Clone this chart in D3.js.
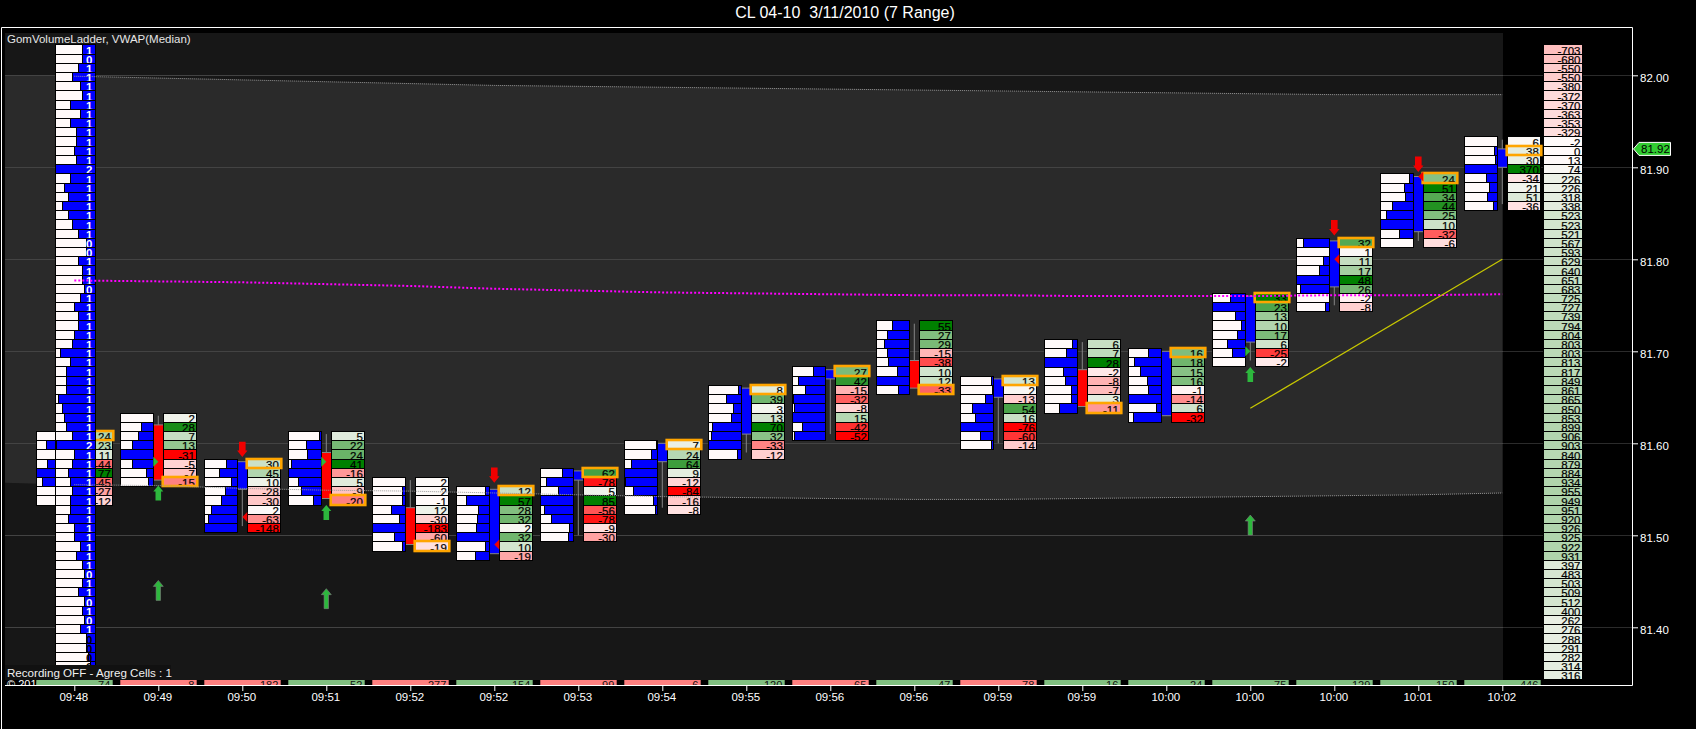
<!DOCTYPE html>
<html><head><meta charset="utf-8">
<script src="https://cdn.jsdelivr.net/npm/d3@7"></script>
<style>html,body{margin:0;padding:0;background:#000;overflow:hidden}svg{display:block}text{font-family:"Liberation Sans",Arial,sans-serif}</style>
</head><body><svg id="c" width="1696" height="729"></svg>
<script>
const timeLabels=["09:48","09:49","09:50","09:51","09:52","09:52","09:53","09:54","09:55","09:56","09:56","09:59","09:59","10:00","10:00","10:00","10:01","10:02"];
const volumes=[74,8,182,52,277,154,99,6,120,65,47,78,16,24,75,129,150,446];
const volumeUp=[1,0,0,1,0,1,0,0,1,0,1,0,1,1,1,1,1,1];
const barTop=[81.61,81.63,81.58,81.61,81.56,81.55,81.57,81.60,81.66,81.68,81.73,81.67,81.71,81.70,81.76,81.82,81.89,81.93];
const candleOpen=[81.60,81.62,81.58,81.59,81.53,81.55,81.57,81.60,81.66,81.68,81.69,81.67,81.68,81.70,81.76,81.82,81.89,81.92];
const candleClose=[81.55,81.56,81.55,81.54,81.49,81.48,81.56,81.58,81.61,81.67,81.66,81.65,81.64,81.63,81.71,81.77,81.83,81.90];
const wickHigh=[81.61,81.63,81.58,81.61,81.56,81.55,81.57,81.60,81.66,81.68,81.73,81.67,81.71,81.70,81.76,81.82,81.89,81.93];
const wickLow=[81.54,81.56,81.51,81.54,81.49,81.48,81.50,81.53,81.59,81.61,81.66,81.60,81.64,81.63,81.69,81.75,81.82,81.86];
const bidShare=[
[1,.32,1,.35,0,.2,1,1],[1,.62,.53,.38,0,.38,.77,.83],[.65,.45,.81,.62,.5,.23,.14,0],[.92,.53,.56,.11,0,.32,.41,.74],
[1,.9,.9,.56,.8,0,.65,.9],[.87,.32,.65,.62,.59,0,.87,.56],[.65,.19,.53,0,.13,.35,.87,.84],[.97,.81,.22,0,.04,.29,.87,.93],
[.89,.53,.74,.68,.14,.11,0,.86],[.64,.19,.4,.04,.07,0,.31,.07],[.49,.34,.25,.34,.37,.64,0,.67],[.93,.96,.75,.38,.47,0,.6,.93],
[.84,.65,0,.56,.62,.81,.81,.47],[.59,.19,.38,.56,.59,0,.84,.16],[.53,0,.68,.87,.74,.47,.59,1],[.22,1,.81,.68,0,.13,1,.87],
[.87,.71,.74,.38,.19,0,.56,1],[1,.9,.93,0,.65,.74,.68,.87]];
const barDeltas=[
[24,23,11,-44,77,-45,-27,-12],[2,28,7,13,-31,-5,-7,-15],[30,45,10,-28,-30,2,-63,-148],[5,22,24,41,-16,5,-9,-20],
[2,2,-1,12,-30,-183,-60,-19],[12,57,28,32,2,32,10,-19],[62,-78,5,85,-56,-78,-9,-30],[7,24,64,9,-12,-84,-16,-8],
[8,39,3,13,70,32,-33,-12],[27,42,-15,-32,-8,15,-42,-52],[55,27,29,-15,-38,10,12,-33],[13,2,-13,54,16,-76,-60,-14],
[6,7,28,-2,-8,-7,3,-11],[16,18,15,16,-1,-14,6,-32],[33,23,13,10,17,6,-25,-2],[32,1,11,17,48,26,-2,-8],
[24,51,34,44,25,10,-32,-6],[6,38,30,370,-34,21,51,-36]];
const pocRow=[0,7,0,7,7,0,0,0,0,0,7,0,7,0,0,0,0,1];
const arrowUpSmall=[[1,81.554],[3,81.533],[14,81.683]];
const arrowUpLarge=[[1,81.451],[3,81.442],[14,81.522]];
const arrowDown=[[2,81.585],[5,81.557],[15,81.826],[16,81.895]];
const triangleRight=[[1,81.58],[3,81.58],[14,81.70]];
const triangleLeft=[[2,81.52],[5,81.49],[15,81.80],[16,81.89]];
const ladderTop=82.03;
const ladderShare=[.66,.68,.58,.43,.63,.66,.38,.61,.36,.51,.53,.48,.53,0,.36,.21,.33,.16,.31,.41,.58,.76,.76,.56,.66,.66,.71,.63,.48,.56,.58,.46,.43,.13,.36,.28,.26,.28,.06,.16,.23,.28,.41,.03,.48,.41,.33,.36,.41,.38,.38,.31,.48,.48,.63,.51,.66,.71,.68,.58,.73,.68,.73,.63,.78,.78,.81,.86,.86];
const ladderValues=[1,0,1,1,1,1,1,1,1,1,1,1,1,2,1,1,1,1,1,1,1,0,0,1,1,1,0,1,1,1,1,1,1,1,1,1,1,1,1,1,1,1,1,2,1,1,1,1,1,1,1,1,1,1,1,1,1,0,1,1,0,1,0,1,0,0,0,0,0];
const cumDeltas=[-703,-680,-550,-550,-380,-372,-370,-363,-353,-329,-2,0,13,74,226,226,318,338,523,523,521,567,593,629,640,651,683,725,727,739,794,804,803,803,813,817,849,861,865,850,853,899,906,903,840,879,884,934,955,949,951,920,926,925,922,931,397,483,503,509,512,400,262,276,288,291,282,314,316];
const bandUpper=[81.999,81.997,81.995,81.993,81.991,81.989,81.988,81.987,81.986,81.985,81.984,81.983,81.982,81.981,81.980,81.979,81.979,81.979];
const bandLower=[81.555,81.554,81.551,81.549,81.548,81.546,81.544,81.542,81.541,81.540,81.539,81.539,81.540,81.541,81.542,81.543,81.544,81.546];
const vwap=[81.777,81.776,81.775,81.773,81.771,81.768,81.766,81.764,81.763,81.762,81.761,81.761,81.760,81.760,81.760,81.761,81.761,81.762];
const trendLine=[[14,81.638],[17,81.80]];
const priceTicks=[82.0,81.9,81.8,81.7,81.6,81.5,81.4];
const lastPrice=81.92;
const tickSize=0.01;

const svg=d3.select("#c");
const x=d3.scaleLinear().domain([0,17]).range([74.3,1502.3]);
const y=d3.scaleLinear().domain([81.4,82.0]).range([627.3,75.3]);
const plotL=5,plotR=1503,plotT=33,plotB=680,axisR=1632,axisB=685;
const rowY=p=>Math.round(y(p)-3.2);
const rows=(p,k)=>{const a=rowY(p-k*tickSize);return [a,Math.round(y(p-(k+1)*tickSize)-3.2)];};
const WHITE="#fffafa";
const cellColor=(v,m)=>{const t=Math.min(1,Math.abs(v)/m);return v>=0?d3.interpolateRgb(WHITE,"#008000")(t):d3.interpolateRgb(WHITE,"#ff0000")(t);};

const defs=svg.append("defs");
defs.append("clipPath").attr("id","volClip").append("rect").attr("x",0).attr("y",680).attr("width",1696).attr("height",5);
defs.append("clipPath").attr("id","plotClip").append("rect").attr("x",plotL).attr("y",plotT).attr("width",plotR-plotL).attr("height",plotB-plotT);

/* backgrounds */
svg.append("rect").attr("x",plotL).attr("y",plotT).attr("width",plotR-plotL).attr("height",plotB-plotT).attr("fill","#171717");
const idx=d3.range(18);
const area=d3.area().x(d=>d[0]).y0(d=>y(d[2])).y1(d=>y(d[1]));
const bandPts=[[plotL,bandUpper[0]+0.001,bandLower[0]+0.002]].concat(idx.map(i=>[x(i),bandUpper[i],bandLower[i]]));
svg.append("path").attr("d",area(bandPts)).attr("fill","#2a2a2a");

/* grid */
svg.append("g").selectAll("line").data(priceTicks).join("line")
 .attr("x1",plotL).attr("x2",plotR).attr("y1",d=>Math.round(y(d))+.5).attr("y2",d=>Math.round(y(d))+.5).attr("stroke","#434343");
svg.append("g").selectAll("line").data(priceTicks).join("line")
 .attr("x1",plotR).attr("x2",axisR).attr("y1",d=>Math.round(y(d))+.5).attr("y2",d=>Math.round(y(d))+.5).attr("stroke","#2b2b2b");

/* volume strip */
const copy=svg.append("g").attr("clip-path","url(#volClip)");
copy.append("text").attr("x",7).attr("y",688).attr("fill","#fff").attr("font-size",11).text("© 2010");
const vol=svg.append("g").attr("clip-path","url(#volClip)");
vol.selectAll("rect").data(volumes).join("rect").attr("x",(d,i)=>x(i)-38).attr("y",680).attr("width",76.4).attr("height",5)
 .attr("fill",(d,i)=>volumeUp[i]?"#80bf80":"#ff8080");
vol.selectAll("text").data(volumes).join("text").attr("x",(d,i)=>x(i)+36).attr("y",689).attr("text-anchor","end").attr("font-size",11).attr("fill","#111").text(d=>d);

/* footprint bars */
const bars=svg.append("g");
idx.forEach(i=>{
  const cx=x(i),g=bars.append("g");
  g.append("line").attr("x1",cx).attr("x2",cx).attr("y1",y(wickHigh[i])).attr("y2",y(wickLow[i])).attr("stroke","#858585").attr("stroke-width",1);
  const o=candleOpen[i],c=candleClose[i],red=i===1||i===3||i===4||i===10||i===12;
  g.append("rect").attr("x",cx-4.8).attr("width",9.6).attr("y",y(o)).attr("height",y(c)-y(o)).attr("fill",red?"#ff0000":"#0000ff");
  [o,c].forEach(p=>g.append("line").attr("x1",cx-4.8).attr("x2",cx+4.8).attr("y1",y(p)).attr("y2",y(p)).attr("stroke","#858585").attr("stroke-width",1));
  const m=d3.max(barDeltas[i],Math.abs);
  barDeltas[i].forEach((v,k)=>{
    const [a,b]=rows(barTop[i],k);
    g.append("rect").attr("x",cx-38).attr("y",a).attr("width",33.4).attr("height",b-a).attr("fill","#0000ff").attr("stroke","#000").attr("shape-rendering","crispEdges");
    g.append("rect").attr("x",cx-38).attr("y",a).attr("width",33.4*bidShare[i][k]).attr("height",b-a).attr("fill",WHITE).attr("stroke","#000").attr("stroke-width",bidShare[i][k]?1:0).attr("shape-rendering","crispEdges");
    g.append("rect").attr("x",cx+5).attr("y",a).attr("width",33.4).attr("height",b-a).attr("fill",cellColor(v,m)).attr("stroke","#000").attr("shape-rendering","crispEdges");
    g.append("text").attr("x",cx+36.5).attr("y",b+.5).attr("text-anchor","end").attr("font-size",11.5).attr("fill","#000").attr("stroke","#000").attr("stroke-width",.2).text(v);
  });
  const [a,b]=rows(barTop[i],pocRow[i]);
  g.append("rect").attr("x",cx+4.4).attr("y",a).attr("width",34.6).attr("height",b-a).attr("fill","none").attr("stroke","#ffa500").attr("stroke-width",2.6);
});

/* signals */
const sig=svg.append("g");
const GREEN="#2db83d";
sig.selectAll(".up").data(arrowUpSmall).join("path").attr("fill",GREEN)
 .attr("d",d=>{const c=x(d[0]),t=y(d[1]);return d3.line()([[c,t],[c+5,t+6],[c+2.8,t+6],[c+2.8,t+15],[c-2.8,t+15],[c-2.8,t+6],[c-5,t+6]])+"Z";});
sig.selectAll(".upL").data(arrowUpLarge).join("path").attr("fill",GREEN).attr("stroke","#7f7f7f").attr("stroke-width",.6)
 .attr("d",d=>{const c=x(d[0]),t=y(d[1]);return d3.line()([[c,t],[c+5,t+6],[c+2.2,t+6],[c+2.2,t+20],[c-2.2,t+20],[c-2.2,t+6],[c-5,t+6]])+"Z";});
sig.selectAll(".dn").data(arrowDown).join("path").attr("fill","#f00000")
 .attr("d",d=>{const c=x(d[0]),t=y(d[1]);return d3.line()([[c,t],[c+5.2,t-6.5],[c+3.3,t-6.5],[c+3.3,t-15.4],[c-3.3,t-15.4],[c-3.3,t-6.5],[c-5.2,t-6.5]])+"Z";});
sig.selectAll(".tr").data(triangleRight).join("path").attr("fill",GREEN)
 .attr("d",d=>{const c=x(d[0]),t=y(d[1]);return d3.line()([[c-5,t-5],[c,t],[c-5,t+5]])+"Z";});
sig.selectAll(".tl").data(triangleLeft).join("path").attr("fill","#f00000")
 .attr("d",d=>{const c=x(d[0]),t=y(d[1]);return d3.line()([[c+5,t-5],[c,t],[c+5,t+5]])+"Z";});

/* session ladder */
const lad=svg.append("g").attr("clip-path","url(#plotClip)");
ladderValues.forEach((v,k)=>{
  const [a,b]=rows(ladderTop,k),L=55.7,W=40;
  lad.append("rect").attr("x",L).attr("y",a).attr("width",W).attr("height",b-a).attr("fill","#0000ff").attr("stroke","#000").attr("shape-rendering","crispEdges");
  if(ladderShare[k]>0) lad.append("rect").attr("x",L).attr("y",a).attr("width",W*ladderShare[k]).attr("height",b-a).attr("fill",WHITE).attr("stroke","#000").attr("shape-rendering","crispEdges");
  lad.append("text").attr("x",92.5).attr("y",b+.5).attr("text-anchor","end").attr("font-size",11.5).attr("font-weight","bold").attr("fill",k>=64?"#000":"#fff").text(v);
});

/* cumulative ladder */
const cum=svg.append("g");
cumDeltas.forEach((v,k)=>{
  const [a,b]=rows(ladderTop,k);
  cum.append("rect").attr("x",1543).attr("y",a).attr("width",39).attr("height",b-a).attr("fill",cellColor(v,3000)).attr("stroke","#000").attr("shape-rendering","crispEdges");
  cum.append("text").attr("x",1580.5).attr("y",b+.5).attr("text-anchor","end").attr("font-size",11.5).attr("fill","#000").attr("stroke","#000").attr("stroke-width",.2).text(v);
});

/* overlays */
const ln=d3.line().x((d,i)=>x(i)).y(d=>y(d));
[bandUpper,bandLower].forEach(b=>svg.append("path").attr("d",ln(b)).attr("fill","none").attr("stroke","#9a9a9a").attr("stroke-width",1).attr("stroke-dasharray","1 1"));
svg.append("path").attr("d",ln(vwap)).attr("fill","none").attr("stroke","#ff00ff").attr("stroke-width",2).attr("stroke-dasharray","2 2");
svg.append("line").attr("x1",x(trendLine[0][0])).attr("y1",y(trendLine[0][1])).attr("x2",x(trendLine[1][0])).attr("y2",y(trendLine[1][1])).attr("stroke","#c8c800").attr("stroke-width",1.2);

/* frame + axes */
const axY=svg.append("g").attr("transform",`translate(${axisR},0)`).call(d3.axisRight(y).tickValues(priceTicks).tickFormat(d3.format(".2f")).tickSize(6).tickPadding(2));
axY.select(".domain").remove();
axY.selectAll("line").attr("stroke","#fff");
axY.selectAll("text").attr("fill","#fff").attr("font-size",11.5).attr("dy","0.55em").style("font-family",'"Liberation Sans",Arial,sans-serif');
const axX=svg.append("g").attr("transform",`translate(0,${axisB})`).call(d3.axisBottom(x).tickValues(idx).tickFormat(i=>timeLabels[i]).tickSize(6).tickPadding(2));
axX.select(".domain").remove();
axX.selectAll("line").attr("stroke","#fff");
axX.selectAll("text").attr("fill","#fff").attr("font-size",11.5).attr("dx",-1).style("font-family",'"Liberation Sans",Arial,sans-serif');
svg.append("path").attr("d",`M1.5 729V27.5H${axisR+.5}V${axisB+.5}H${plotL}`).attr("fill","none").attr("stroke","#fff").attr("stroke-width",1);

/* last price flag */
const ly=y(lastPrice);
svg.append("path").attr("d",d3.line()([[1633.5,ly],[1639,ly-6.5],[1670.5,ly-6.5],[1670.5,ly+6.5],[1639,ly+6.5]])+"Z").attr("fill","#32cd32").attr("stroke","#fff").attr("stroke-width",1);
svg.append("text").attr("x",1641).attr("y",ly+4.2).attr("font-size",11.5).attr("fill","#000").text(lastPrice.toFixed(2));

/* captions */
svg.append("text").attr("x",845).attr("y",18).attr("text-anchor","middle").attr("font-size",16).attr("fill","#fff").attr("xml:space","preserve").text("CL 04-10  3/11/2010 (7 Range)");
svg.append("text").attr("x",7).attr("y",43).attr("font-size",11.5).attr("fill","#e6e6e6").text("GomVolumeLadder, VWAP(Median)");
svg.append("rect").attr("x",5).attr("y",665).attr("width",166).attr("height",15).attr("fill","#111");
svg.append("text").attr("x",7).attr("y",677).attr("font-size",11.6).attr("fill","#f0f0f0").text("Recording OFF - Agreg Cells : 1");
</script></body></html>
